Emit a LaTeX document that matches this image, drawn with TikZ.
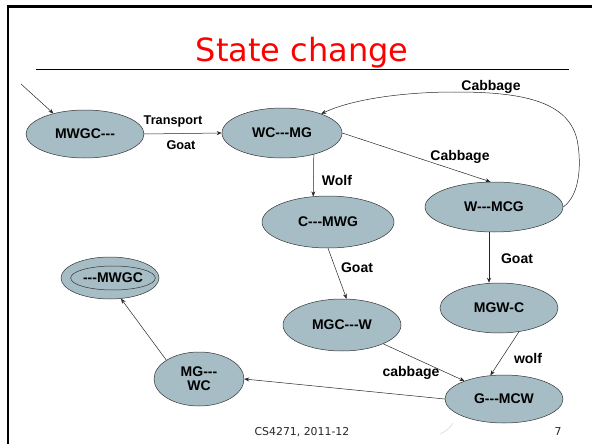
\documentclass[tikz,border=0pt]{standalone}
\usepackage{fontspec}
\setmainfont{Liberation Sans}
\newfontfamily\titlefont{DejaVu Sans}
\usetikzlibrary{shapes.geometric,arrows.meta}
\newcommand\tdash{-{}-{}-}
\definecolor{statefill}{RGB}{166,189,197}
\definecolor{titlered}{RGB}{255,0,0}
\tikzset{
  state/.style={ellipse, draw=black!80, line width=0.5pt, fill=statefill,
    inner sep=0pt, font=\fontsize{14}{16}\selectfont\bfseries, align=center},
  conn/.style={draw=black!85, line width=0.5pt, -{Stealth[length=5pt,width=4pt]}},
  elabel/.style={font=\fontsize{14}{16}\selectfont\bfseries, inner sep=0pt},
  slabel/.style={font=\fontsize{12.7}{15}\selectfont\bfseries, inner sep=0pt},
}
\begin{document}
\begin{tikzpicture}[x=1pt,y=-1pt]
\useasboundingbox (0,0) rectangle (592,444);
% slide border
\draw[line width=2.7pt] (8,444) -- (8,6.5) -- (592,6.5);
% title
\node[anchor=base, text=titlered, font=\titlefont\fontsize{32}{36}\selectfont, inner sep=0pt] (title) at (302,62) {State change};
\draw[line width=0.9pt] (36,69) -- (569,69);
% states
\node[state, minimum width=118pt, minimum height=48pt] (mwgc) at (85,134) {MWGC\tdash};
\node[state, minimum width=120pt, minimum height=50pt] (wcmg) at (282,133) {WC\tdash MG};
\node[state, minimum width=132pt, minimum height=52pt] (cmwg) at (328,222) {C\tdash MWG};
\node[state, minimum width=138pt, minimum height=50pt] (wmcg) at (494,207) {W\tdash MCG};
\node[state, minimum width=98pt, minimum height=42pt] (final) at (110,278) {};
\node[ellipse, draw=black!80, line width=0.5pt, inner sep=0pt, minimum width=76pt, minimum height=24pt,
      font=\fontsize{14}{16}\selectfont\bfseries] (finalin) at (113,278) {\tdash MWGC};
\node[state, minimum width=118pt, minimum height=52pt] (mgcw) at (342,325) {MGC\tdash W};
\node[state, minimum width=118pt, minimum height=50pt] (mgwc) at (499,308) {MGW-C};
\node[state, minimum width=90pt, minimum height=54pt] (mgwcb) at (199,379) {MG\tdash\\[-2pt]WC};
\node[state, minimum width=118pt, minimum height=48pt] (gmcw) at (504,399) {G\tdash MCW};
% connectors
\coordinate (start) at (21,84);
\coordinate (xb) at (489,0);
\draw[conn] (start) -- (mwgc.147);
\draw[conn] (mwgc.east) -- (wcmg.west);
\draw[conn] (wcmg.-34.6) -- (cmwg.120.7);
\draw[conn] (wcmg.east) -- (wmcg.98);
\draw[conn] (wmcg.east) .. controls (580,195) and (581,165) .. (578,145)
   .. controls (572,100) and (520,92) .. (455,92)
   .. controls (400,92) and (350,100) .. (wcmg.26);
\draw[conn] (cmwg.south) -- (mgcw.80);
\draw[conn] (wmcg.south -| xb) -- (mgwc.north -| xb);
\draw[conn] (mgcw) -- (gmcw);
\draw[conn] (mgwc.-50) -- (gmcw.120);
\draw[conn] (gmcw.west) -- (mgwcb.east);
\draw[conn] (mgwcb.150) -- (final.-62);
% edge labels
\node[slabel] (lt) at (173,121) {Transport};
\node[slabel] (lg) at (181,145) {Goat};
\node[elabel] (lw) at (337,180) {Wolf};
\node[elabel] (lc1) at (460,157) {Cabbage};
\node[elabel] (lc2) at (491,87) {Cabbage};
\node[elabel] (lg2) at (357,268) {Goat};
\node[elabel] (lg3) at (517,259) {Goat};
\node[elabel] (lc3) at (411,373) {cabbage};
\node[elabel] (lw2) at (528,358) {wolf};
% footer
\node[font=\titlefont\fontsize{10.9}{13}\selectfont, text=black!85, inner sep=0pt] (foot) at (302,432) {CS4271, 2011-12};
\node[font=\titlefont\fontsize{10.9}{13}\selectfont, text=black!85, inner sep=0pt] (page) at (558,432) {7};
% faint artifact
\draw[black!12, line width=0.8pt] (440,434) .. controls (446,431) and (450,428) .. (453,423);
\end{tikzpicture}
\end{document}
